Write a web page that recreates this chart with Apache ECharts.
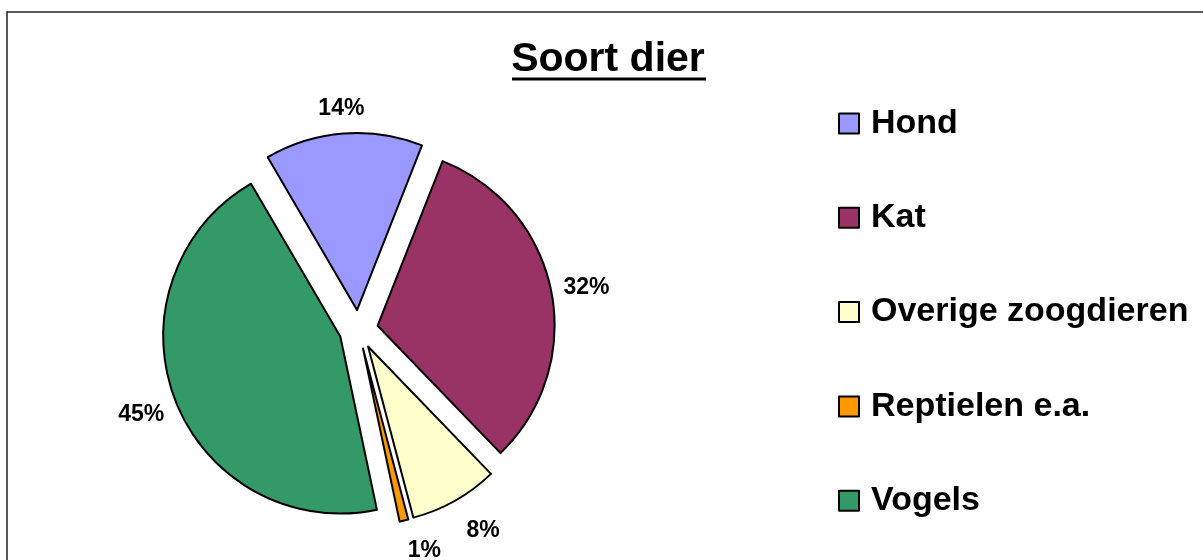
<!DOCTYPE html>
<html>
<head>
<meta charset="utf-8">
<script src="https://cdn.jsdelivr.net/npm/echarts@6/dist/echarts.min.js"></script>
<style>
html,body{margin:0;padding:0;background:#fff;}
#chart{width:1203px;height:560px;}
</style>
</head>
<body>
<div id="chart"></div>
<script>
const titleText = 'Soort dier';
const categories = ['Hond', 'Kat', 'Overige zoogdieren', 'Reptielen e.a.', 'Vogels'];
const values = [14.4, 31.8, 8.1, 0.8, 44.9];
const colors = ['#9999FF', '#993366', '#FFFFCC', '#FF9900', '#339966'];
const labelLen = [28, 36, 31, 28, 31];
const labelLen2 = [0, 0, 13, 14, 5];

const FONT = '"Liberation Sans", Arial, Helvetica, sans-serif';
const chart = echarts.init(document.getElementById('chart'), null, {renderer: 'canvas'});

const data = categories.map((n, i) => ({
  name: n,
  value: values[i],
  selected: true,
  itemStyle: {color: colors[i]},
  labelLine: {show: false, length: labelLen[i], length2: labelLen2[i]}
}));

chart.setOption({
  animation: false,
  backgroundColor: '#ffffff',
  title: {
    text: titleText,
    left: 608,
    top: 39,
    padding: 0,
    textAlign: 'center',
    textStyle: {fontFamily: FONT, fontSize: 41, fontWeight: 'bold', color: '#000'}
  },
  graphic: [
    {type: 'rect', shape: {x: 7, y: 12, width: 1400, height: 800}, style: {fill: 'none', stroke: '#222', lineWidth: 1.5}, silent: true},
    {type: 'line', shape: {x1: 512, y1: 79, x2: 706, y2: 79}, style: {stroke: '#000', lineWidth: 3}, silent: true}
  ],
  legend: {
    orient: 'vertical',
    left: 838,
    top: 106,
    padding: 0,
    itemWidth: 20,
    itemHeight: 20,
    itemGap: 59.3,
    icon: 'rect',
    selectedMode: false,
    itemStyle: {borderColor: '#000', borderWidth: 2},
    textStyle: {fontFamily: FONT, fontSize: 34, fontWeight: 'bold', color: '#000', lineHeight: 35, padding: [0, 0, 0, 7]},
    data: categories
  },
  series: [{
    type: 'pie',
    center: [358.5, 329.5],
    radius: 177,
    startAngle: 120.3,
    clockwise: true,
    selectedMode: 'multiple',
    selectedOffset: 19.5,
    avoidLabelOverlap: false,
    itemStyle: {borderColor: '#000', borderWidth: 2},
    select: {itemStyle: {borderColor: '#000', borderWidth: 2}},
    emphasis: {disabled: true},
    label: {
      show: true,
      position: 'outside',
      distanceToLabelLine: 0,
      formatter: p => Math.round(p.percent) + '%',
      fontFamily: FONT, fontSize: 23, fontWeight: 'bold', color: '#000'
    },
    labelLine: {show: false},
    labelLayout: function () { return {align: 'center', verticalAlign: 'middle', dy: 3}; },
    data: data
  }]
});
</script>
</body>
</html>
